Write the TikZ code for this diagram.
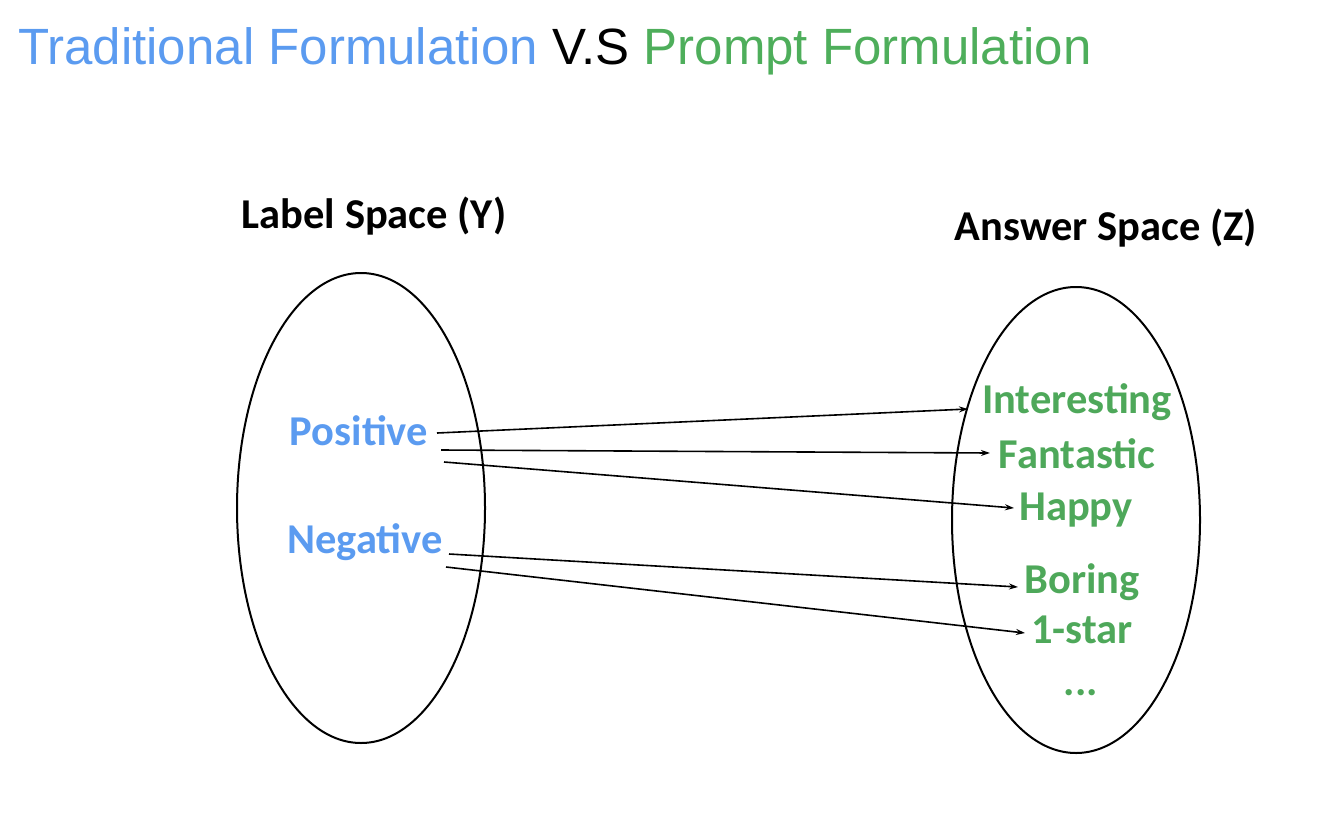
\documentclass[tikz,border=0pt]{standalone}
\usepackage{fontspec}
\setmainfont{Liberation Sans}
\newfontfamily\calib{Carlito}
\usetikzlibrary{arrows.meta}
\definecolor{tblue}{HTML}{5B9BF0}
\definecolor{tgreen}{HTML}{4EAE5B}
\definecolor{agreen}{HTML}{4EA85A}
\tikzset{
  space/.style={draw=black, line width=2pt},
  head/.style={font=\calib\bfseries\fontsize{42.5}{46}\selectfont, anchor=base, inner sep=0pt},
  lab/.style={font=\calib\bfseries\fontsize{42.5}{46}\selectfont, text=tblue, anchor=base, inner sep=0pt},
  ans/.style={font=\calib\bfseries\fontsize{42.5}{46}\selectfont, text=agreen, anchor=base, inner sep=0pt},
  link/.style={line width=1.6pt, -{Stealth[length=9pt,width=6pt]}}
}
\begin{document}
\begin{tikzpicture}[x=1pt,y=-1pt]
\useasboundingbox (0,0) rectangle (1322,830);
\node[anchor=base west, inner sep=0pt, font=\fontsize{51}{60}\selectfont] (title) at (18,64)
  {{\color{tblue}Traditional Formulation} V.S {\color{tgreen}Prompt Formulation}};
\draw[space] (361,508) ellipse [x radius=124, y radius=235];
\draw[space] (1076,520) ellipse [x radius=124, y radius=233];
\node[head] (ly) at (374,228) {Label Space (Y)};
\node[head] (az) at (1106,240) {Answer Space (Z)};
\node[lab] (pos) at (359,445) {Positive};
\node[lab] (neg) at (365,553) {Negative};
\node[ans] (a1) at (1077,413) {Interesting};
\node[ans] (a2) at (1077,468) {Fantastic};
\node[ans] (a3) at (1076,520) {Happy};
\node[ans] (a4) at (1082,593) {Boring};
\node[ans] (a5) at (1082,643) {1-star};
\node[ans] (a6) at (1081,695) {...};
\coordinate (p1) at (437,433);
\coordinate (p2) at (441,450);
\coordinate (p3) at (444,462);
\coordinate (n1) at (449,554);
\coordinate (n2) at (446,567);
\coordinate (e1) at (968,409);
\coordinate (e2) at (990,453);
\coordinate (e3) at (1014,508);
\coordinate (e4) at (1018,587);
\coordinate (e5) at (1025,633);
\draw[link] (p1) -- (e1);
\draw[link] (p2) -- (e2);
\draw[link] (p3) -- (e3);
\draw[link] (n1) -- (e4);
\draw[link] (n2) -- (e5);
\end{tikzpicture}
\end{document}
